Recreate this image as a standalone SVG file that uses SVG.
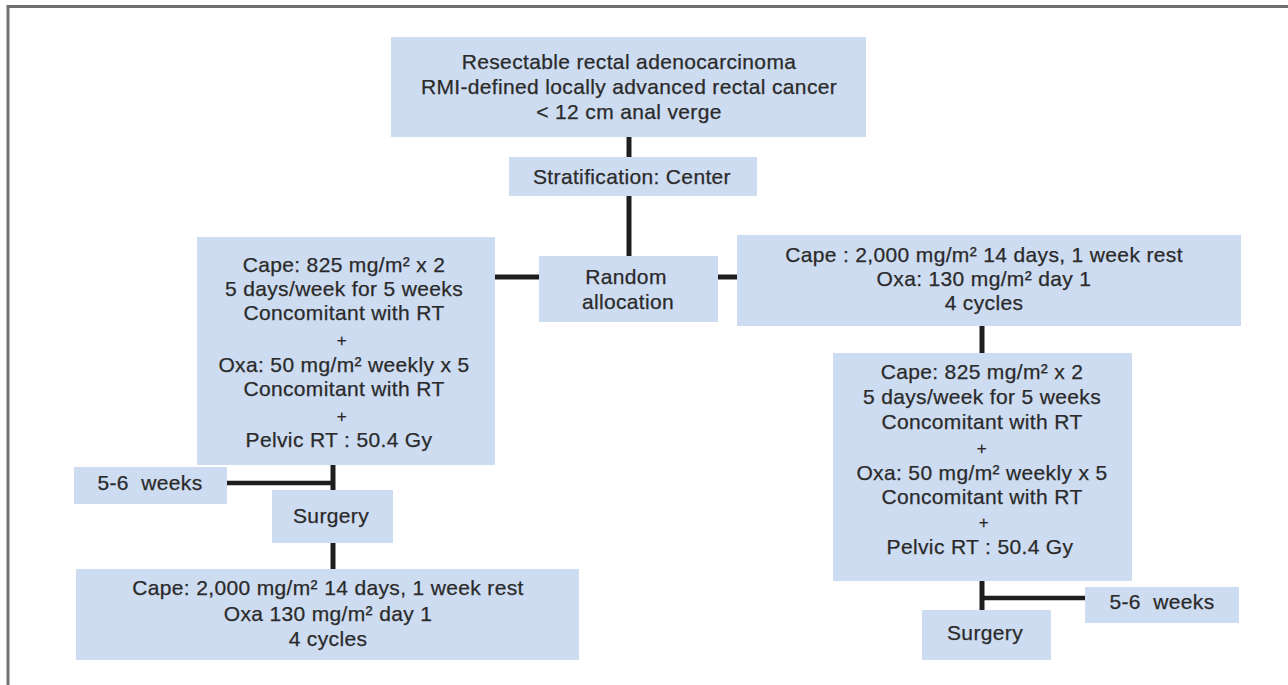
<svg xmlns="http://www.w3.org/2000/svg" width="1288" height="685" viewBox="0 0 1288 685">
<style>
.box{fill:#cddcf1;}
.t{font-family:"Liberation Sans",Arial,sans-serif;font-size:21px;letter-spacing:0.35px;fill:#2a2a2a;stroke:#2a2a2a;stroke-width:0.25;text-anchor:middle;white-space:pre;}
.plus{font-size:17px;}
.c{stroke:#1e1e1e;stroke-width:5;fill:none;}
.c2{stroke:#1e1e1e;stroke-width:4.5;fill:none;}
.frame{stroke:#707070;stroke-width:3;fill:none;}
</style>
<rect width="1288" height="685" fill="#ffffff"/>
<path class="frame" d="M8 685 V6.5 H1288"/>
<g id="connectors">
<line class="c" x1="629" y1="137" x2="629" y2="157"/>
<line class="c" x1="629" y1="196" x2="629" y2="256"/>
<line class="c" x1="495" y1="277" x2="539" y2="277"/>
<line class="c" x1="718" y1="277" x2="737" y2="277"/>
<line class="c" x1="982" y1="326" x2="982" y2="353"/>
<line class="c" x1="982" y1="581" x2="982" y2="611"/>
<line class="c2" x1="982" y1="598" x2="1085" y2="598"/>
<line class="c" x1="333" y1="465" x2="333" y2="493"/>
<line class="c2" x1="227" y1="483" x2="333" y2="483"/>
<line class="c" x1="333" y1="543" x2="333" y2="570"/>
</g>
<g id="n-top">
<rect class="box" x="391" y="37" width="475" height="100"/>
<text class="t" x="629" y="69">Resectable rectal adenocarcinoma</text>
<text class="t" x="629" y="94">RMI-defined locally advanced rectal cancer</text>
<text class="t" x="629" y="119">&lt; 12 cm anal verge</text>
</g>
<g id="n-strat">
<rect class="box" x="509" y="157" width="248" height="39"/>
<text class="t" x="632" y="184">Stratification: Center</text>
</g>
<g id="n-random">
<rect class="box" x="539" y="256" width="179" height="66"/>
<text class="t" x="626" y="284">Random</text>
<text class="t" x="628" y="309">allocation</text>
</g>
<g id="n-left-crt">
<rect class="box" x="197" y="237" width="298" height="228"/>
<text class="t" x="344" y="272">Cape: 825 mg/m² x 2</text>
<text class="t" x="344" y="296">5 days/week for 5 weeks</text>
<text class="t" x="344" y="320">Concomitant with RT</text>
<text class="t plus" x="342" y="346">+</text>
<text class="t" x="344" y="372">Oxa: 50 mg/m² weekly x 5</text>
<text class="t" x="344" y="396">Concomitant with RT</text>
<text class="t plus" x="342" y="422">+</text>
<text class="t" x="339" y="447">Pelvic RT : 50.4 Gy</text>
</g>
<g id="n-left-weeks">
<rect class="box" x="74" y="467" width="153" height="37"/>
<text class="t" x="150" y="490">5-6  weeks</text>
</g>
<g id="n-left-surgery">
<rect class="box" x="272" y="490" width="121" height="53"/>
<text class="t" x="331" y="523">Surgery</text>
</g>
<g id="n-left-adj">
<rect class="box" x="76" y="569" width="503" height="91"/>
<text class="t" x="328" y="595">Cape: 2,000 mg/m² 14 days, 1 week rest</text>
<text class="t" x="328" y="621">Oxa 130 mg/m² day 1</text>
<text class="t" x="328" y="646">4 cycles</text>
</g>
<g id="n-right-neo">
<rect class="box" x="737" y="235" width="504" height="91"/>
<text class="t" x="984" y="262">Cape : 2,000 mg/m² 14 days, 1 week rest</text>
<text class="t" x="984" y="286">Oxa: 130 mg/m² day 1</text>
<text class="t" x="984" y="310">4 cycles</text>
</g>
<g id="n-right-crt">
<rect class="box" x="833" y="353" width="299" height="228"/>
<text class="t" x="982" y="379">Cape: 825 mg/m² x 2</text>
<text class="t" x="982" y="404">5 days/week for 5 weeks</text>
<text class="t" x="982" y="429">Concomitant with RT</text>
<text class="t plus" x="982" y="454">+</text>
<text class="t" x="982" y="480">Oxa: 50 mg/m² weekly x 5</text>
<text class="t" x="982" y="504">Concomitant with RT</text>
<text class="t plus" x="984" y="528">+</text>
<text class="t" x="980" y="554">Pelvic RT : 50.4 Gy</text>
</g>
<g id="n-right-weeks">
<rect class="box" x="1085" y="587" width="154" height="36"/>
<text class="t" x="1162" y="609">5-6  weeks</text>
</g>
<g id="n-right-surgery">
<rect class="box" x="922" y="610" width="129" height="50"/>
<text class="t" x="985" y="640">Surgery</text>
</g>
</svg>
